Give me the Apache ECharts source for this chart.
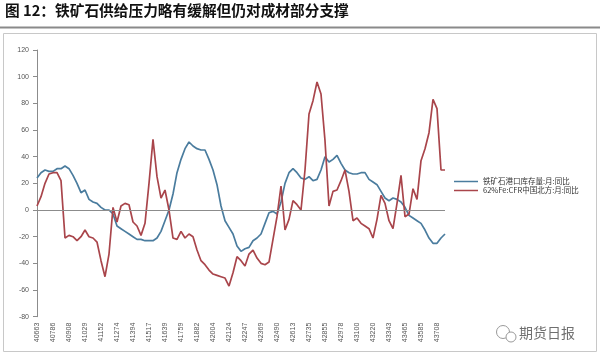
<!DOCTYPE html>
<html><head><meta charset="utf-8">
<script src="https://cdn.jsdelivr.net/npm/echarts@6/dist/echarts.min.js"></script>
<style>html,body{margin:0;padding:0;background:#fff}#c{width:600px;height:355px}</style>
</head><body><div id="c"></div>
<script>
var titleText = '图 12：铁矿石供给压力略有缓解但仍对成材部分支撑';
var seriesNames = ['铁矿石港口库存量:月:同比', '62%Fe:CFR中国北方:月:同比'];
var categories = [
40663,40694,40724,40755,40786,40816,40847,40877,40908,
40939,40968,40999,41029,41060,41090,41121,41152,41182,41213,41243,41274,
41305,41333,41364,41394,41425,41455,41486,41517,41547,41578,41608,41639,
41670,41698,41729,41759,41790,41820,41851,41882,41912,41943,41973,42004,
42035,42063,42094,42124,42155,42185,42216,42247,42277,42308,42338,42369,
42400,42429,42460,42490,42521,42551,42582,42613,42643,42674,42704,42735,
42766,42794,42825,42855,42886,42916,42947,42978,43008,43039,43069,43100,
43131,43159,43190,43220,43251,43281,43312,43343,43373,43404,43434,43465,
43496,43524,43555,43585,43616,43646,43677,43708,43738,43769];
var inventoryYoY = [
24,28,30,29,29,31,31,33,31,26,20,13,15,8,6,5,2,0,0,-3,
-12,-14,-16,-18,-20,-22,-22,-23,-23,-23,-21,-16,-8,0,12,28,38,46,51,48,
46,45,45,38,30,19,3,-8,-13,-18,-27,-31,-29,-28,-23,-21,-18,-10,-2,-1,
-3,6,20,28,31,28,24,23,25,22,23,30,40,36,38,41,35,30,28,27,
27,28,28,23,21,19,14,9,7,9,8,6,2,-4,-6,-8,-10,-15,-21,-25,
-25,-21,-18];
var cfrYoY = [
3,10,20,27,28,28,22,-21,-19,-20,-23,-20,-15,-20,-21,-24,-38,-50,-33,2,
-9,3,5,4,-9,-12,-19,-10,20,53,25,9,15,0,-21,-22,-16,-21,-18,-20,
-30,-38,-41,-45,-48,-49,-50,-51,-57,-47,-35,-38,-42,-33,-30,-36,-40,-41,-39,-22,
-5,18,-15,-7,7,4,0,30,72,82,96,87,52,3,14,15,22,30,14,-8,
-6,-10,-12,-14,-21,-7,11,5,-8,-14,5,26,-5,-3,16,8,37,46,58,83,
76,30,30];
var yTicks = {min: -80, max: 120, interval: 20};

var chart = echarts.init(document.getElementById('c'), null, {renderer: 'canvas'});
var blue = '#4a7c9e', red = '#a9454b';
chart.setOption({
  animation: false,
  backgroundColor: '#fff',
  graphic: [
    {type: 'text', left: 5, top: 3, style: {text: titleText, font: 'bold 14.7px "Noto Sans CJK SC"', fill: '#111'}},
    {type: 'line', shape: {x1: 0, y1: 27.5, x2: 600, y2: 27.5}, style: {stroke: '#8a8a8a', lineWidth: 2}},
    {type: 'rect', shape: {x: 3.5, y: 33.5, width: 593, height: 318}, style: {fill: 'none', stroke: '#c8c8c8', lineWidth: 1}},
    {type: 'circle', shape: {cx: 503, cy: 332, r: 6.5}, style: {fill: 'none', stroke: '#9a9a9a', lineWidth: 1}},
    {type: 'circle', shape: {cx: 511, cy: 337, r: 5}, style: {fill: '#fff', stroke: '#9a9a9a', lineWidth: 1}},
    {type: 'text', left: 519, top: 326, style: {text: '期货日报', font: '14px "Noto Sans CJK SC"', fill: '#6f6f6f'}}
  ],
  legend: {
    orient: 'vertical', left: 449, top: 172, itemGap: 0,
    itemWidth: 24, itemHeight: 1.5, icon: 'rect',
    textStyle: {fontSize: 7.5, lineHeight: 9, color: '#333', fontFamily: 'Noto Sans CJK SC'},
    data: seriesNames
  },
  grid: {left: 37, right: 155, top: 50, bottom: 38.3, containLabel: false},
  xAxis: {
    type: 'category', data: categories, boundaryGap: false,
    axisLine: {show: false, onZero: false},
    axisTick: {show: false},
    axisLabel: {interval: 3, rotate: 90, fontSize: 7, color: '#555', fontFamily: 'Liberation Sans', margin: 6}
  },
  yAxis: {
    type: 'value', min: yTicks.min, max: yTicks.max, interval: yTicks.interval,
    axisLine: {show: true, lineStyle: {color: '#8c8c8c'}},
    axisTick: {show: true, length: 4, lineStyle: {color: '#8c8c8c'}},
    axisLabel: {fontSize: 7, color: '#555', fontFamily: 'Liberation Sans', margin: 8},
    splitLine: {show: false}
  },
  series: [
    {name: seriesNames[0], type: 'line', data: inventoryYoY, symbol: 'none', color: blue,
     lineStyle: {width: 1.7, color: blue},
     markLine: {silent: true, symbol: 'none', label: {show: false}, lineStyle: {color: '#8c8c8c', width: 1, type: 'solid'}, data: [{yAxis: 0}]}},
    {name: seriesNames[1], type: 'line', data: cfrYoY, symbol: 'none', color: red,
     lineStyle: {width: 1.7, color: red}}
  ]
});
</script></body></html>
